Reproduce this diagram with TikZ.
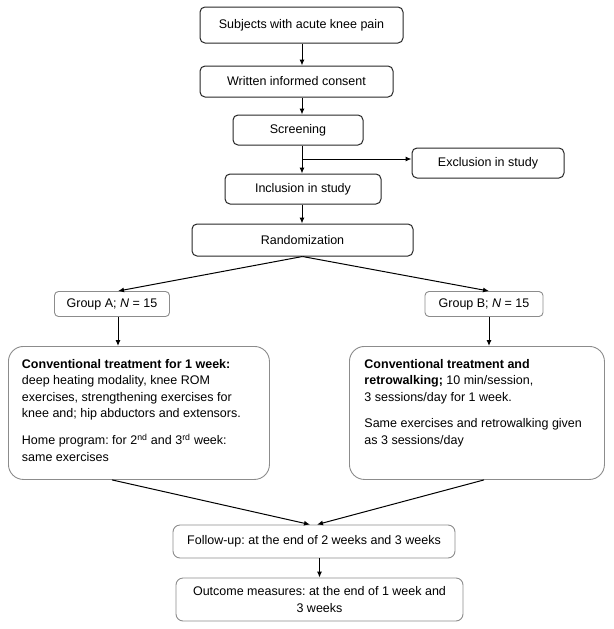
\documentclass[tikz,border=0pt]{standalone}
\usepackage{fontspec}
\setmainfont{Liberation Sans}
\usepackage{tikz}
\usetikzlibrary{arrows.meta}
\frenchspacing

\begin{document}
\begin{tikzpicture}[x=1pt,y=-1pt,
  font=\fontsize{12.5pt}{16.4pt}\selectfont,
  flowbox/.style={draw=black!85, line width=1pt, rounded corners=5pt, inner sep=2pt},
  groupbox/.style={draw=black!45, line width=0.9pt, rounded corners=4pt, inner sep=2pt},
  bigbox/.style={draw=black!45, line width=0.9pt, rounded corners=15pt, inner xsep=13.5pt, inner ysep=13pt, anchor=north west},
  arr/.style={line width=1pt, -{Latex[length=6pt,width=5pt]}}]
\useasboundingbox (0,0) rectangle (613,629);
% draws top boxes
\node[flowbox, minimum width=203pt, minimum height=36pt] (subj) at (301.5,25) {Subjects with acute knee pain};
\node[flowbox, minimum width=193pt, minimum height=31pt] (consent) at (296.5,81.5) {Written informed consent};
\node[flowbox, minimum width=130pt, minimum height=30pt] (screen) at (298,130) {Screening};
\node[flowbox, minimum width=152pt, minimum height=30pt] (excl) at (488,163) {Exclusion in study};
\node[flowbox, minimum width=156pt, minimum height=30pt] (incl) at (303,189) {Inclusion in study};
\node[flowbox, minimum width=221pt, minimum height=32pt] (rand) at (302.5,240) {Randomization};
% draws groups
\node[groupbox, minimum width=115pt, minimum height=25pt] (grpA) at (112,304) {Group A; \textit{N} = 15};
\node[groupbox, minimum width=118pt, minimum height=25pt] (grpB) at (484,304) {Group B; \textit{N} = 15};
% draws treatment boxes
\node[bigbox] (convA) at (8,346) {\parbox[t][107pt][t]{234pt}{\raggedright
  \textbf{Conventional treatment for 1 week:}\\
  deep heating modality, knee ROM\\
  exercises, strengthening exercises for\\
  knee and; hip abductors and extensors.\\[10.5pt]
  Home program: for 2\textsuperscript{nd} and 3\textsuperscript{rd} week:\\
  same exercises}};
\node[bigbox, inner xsep=15pt] (convB) at (349,346) {\parbox[t][107pt][t]{225pt}{\raggedright
  \textbf{Conventional treatment and}\\
  \textbf{retrowalking;} 10 min/session,\\
  3 sessions/day for 1 week.\\[10pt]
  Same exercises and retrowalking given\\
  as 3 sessions/day}};
% draws bottom boxes
\node[groupbox, rounded corners=7pt, minimum width=282pt, minimum height=33pt] (follow) at (314,541.5) {Follow-up: at the end of 2 weeks and 3 weeks};
\node[groupbox, rounded corners=7pt, minimum width=287pt, minimum height=43pt, align=center] (outc) at (319.5,599.5) {Outcome measures: at the end of 1 week and\\3 weeks};
% draws arrows
\coordinate (axis) at (302,0);
\coordinate (split) at (302,159);
\draw[arr] (subj.south -| axis) -- (consent.north -| axis);
\draw[arr] (consent.south -| axis) -- (screen.north -| axis);
\draw[arr] (screen.south -| axis) -- (incl.north -| axis);
\draw[arr] (split) -- (split -| excl.west);
\draw[arr] (incl.south -| axis) -- (rand.north -| axis);
\draw[arr] (rand.south) -- ([xshift=6pt]grpA.north);
\draw[arr] (rand.south) -- ([xshift=5pt]grpB.north);
\draw[arr] ([xshift=6pt]grpA.south) -- ([xshift=6pt]grpA.south |- convA.north);
\draw[arr] ([xshift=5pt]grpB.south) -- ([xshift=5pt]grpB.south |- convB.north);
\draw[arr] (grpA |- convA.south) -- ([xshift=-4pt]follow.north);
\draw[arr] (grpB |- convB.south) -- ([xshift=3pt]follow.north);
\draw[arr] (follow.south -| outc) -- (outc.north);
\end{tikzpicture}
\end{document}
